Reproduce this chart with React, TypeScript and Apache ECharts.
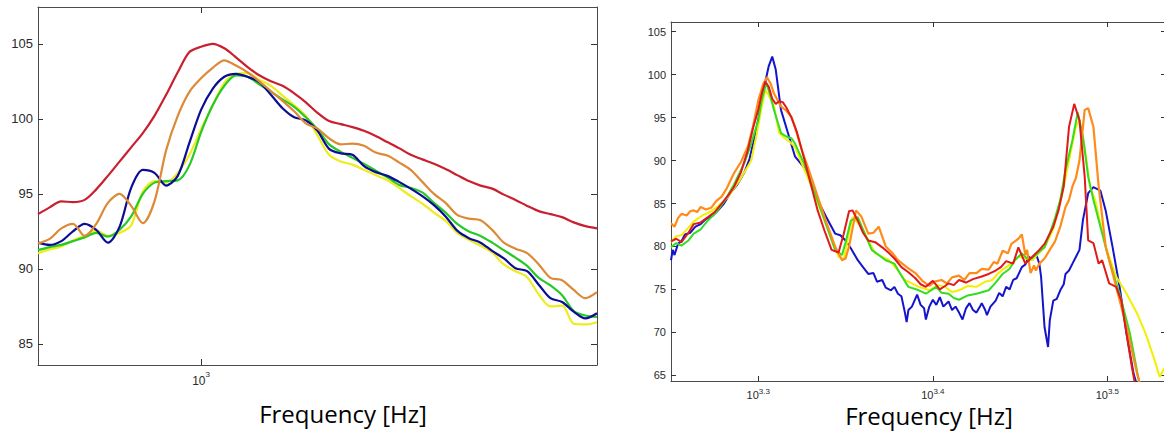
import React, { useEffect, useRef } from "react";
import * as echarts from "echarts";

// ---------- LEFT PANEL (x = log10 of frequency in Hz, y = level) ----------
const leftLogF = [
  2.930, 2.935, 2.940, 2.945, 2.950, 2.955, 2.960, 2.965, 2.970, 2.975,
  2.980, 2.985, 2.990, 2.995, 3.000, 3.005, 3.010, 3.015, 3.020, 3.025,
  3.030, 3.035, 3.040, 3.045, 3.050, 3.055, 3.060, 3.065, 3.070, 3.075,
  3.080, 3.085, 3.090, 3.095, 3.100, 3.105, 3.110, 3.115, 3.120, 3.125,
  3.130, 3.135, 3.140, 3.145, 3.150, 3.155, 3.160, 3.165, 3.170,
];
const leftRed = [
  93.65, 94.1, 94.5, 94.45, 94.6, 95.3, 96.2, 97.15, 98.1, 99.05,
  100.2, 101.6, 103.1, 104.45, 104.8, 105.0, 104.7, 104.1, 103.45, 102.9,
  102.5, 102.2, 101.7, 101.1, 100.4, 99.85, 99.65, 99.45, 99.2, 98.85,
  98.45, 98.05, 97.6, 97.3, 97.0, 96.65, 96.25, 95.85, 95.55, 95.35,
  94.95, 94.6, 94.2, 93.85, 93.65, 93.45, 93.1, 92.85, 92.7,
];
const leftOrange = [
  91.7, 92.0, 92.7, 93.0, 92.2, 93.0, 94.4, 95.0, 94.2, 93.05,
  94.5, 97.9, 100.2, 101.8, 102.7, 103.4, 103.9, 103.55, 103.1, 102.5,
  101.85, 101.2, 100.5, 99.7, 99.35, 98.7, 98.3, 98.35, 98.2, 97.75,
  97.55, 97.1, 96.6, 95.8, 95.0, 94.4, 93.6, 93.35, 93.25, 92.6,
  91.75, 91.35, 91.05, 90.3, 89.4, 89.25, 88.6, 88.05, 88.45,
];
const leftBlue = [
  91.75, 91.6, 91.85, 92.5, 93.0, 92.6, 91.75, 92.8, 95.4, 96.6,
  96.4, 95.55, 96.2, 98.4, 100.6, 102.0, 102.8, 103.0, 102.8, 102.45,
  101.6, 100.7, 100.1, 99.9, 99.2, 98.0, 97.7, 97.6, 96.85, 96.45,
  96.2, 95.8, 95.35, 94.85, 94.25, 93.5, 92.55, 92.05, 91.75, 91.2,
  90.7, 90.05, 89.85, 88.95, 88.05, 87.8, 87.15, 86.7, 87.05,
];
const leftGreen = [
  91.25, 91.45, 91.6, 91.85, 92.1, 92.4, 92.15, 92.6, 93.5, 95.0,
  95.75, 95.85, 95.9, 96.9, 99.1, 100.9, 102.2, 102.9, 102.8, 102.3,
  101.8, 101.3, 100.8, 100.1, 99.3, 98.3, 97.8, 97.4, 97.0, 96.55,
  96.1, 95.6, 95.4, 95.1, 94.4, 93.75, 93.0, 92.5, 92.2, 91.75,
  91.25, 90.75, 90.2, 89.4, 88.9, 88.25, 87.2, 86.9, 86.8,
];
const leftYellow = [
  91.05, 91.3, 91.5, 91.9, 92.2, 92.55, 92.2, 92.4, 92.9, 95.15,
  95.85, 95.75, 96.4, 97.6, 99.3, 100.9, 102.4, 103.0, 103.05, 102.6,
  102.2, 101.55, 100.9, 100.2, 98.9, 97.6, 97.15, 96.95, 96.6, 96.25,
  95.9, 95.4, 94.85, 94.35, 93.75, 93.2, 92.4, 91.95, 91.55, 91.1,
  90.3, 89.85, 89.45, 88.3, 87.5, 87.55, 86.35, 86.3, 86.45,
];
const leftXTicks = [3];
const leftYTicks = [85, 90, 95, 100, 105];

// ---------- RIGHT PANEL ([log10 f, level] pairs) ----------
const rightBlue: [number, number][] = [
  [3.250, 78.4], [3.251, 79.6], [3.252, 79.0], [3.254, 80.3], [3.256, 80.6], [3.258, 81.4],
  [3.261, 81.6], [3.264, 82.3], [3.267, 82.6], [3.270, 83.2], [3.274, 83.6], [3.277, 84.2],
  [3.280, 84.9], [3.284, 86.2], [3.288, 87.2], [3.292, 88.6], [3.295, 90.2], [3.298, 92.8],
  [3.301, 95.8], [3.303, 98.2], [3.306, 101.0], [3.308, 102.1], [3.310, 100.6], [3.313, 95.9],
  [3.317, 93.2], [3.321, 90.5], [3.327, 89.0], [3.334, 85.4], [3.339, 83.4], [3.344, 81.5],
  [3.347, 81.3], [3.350, 80.7], [3.353, 79.8], [3.357, 78.4], [3.360, 77.6], [3.363, 76.8],
  [3.366, 76.9], [3.368, 75.9], [3.371, 76.1], [3.373, 75.2], [3.376, 74.9], [3.378, 75.3],
  [3.380, 74.5], [3.382, 74.2], [3.384, 72.3], [3.385, 71.2], [3.386, 72.6], [3.388, 73.0],
  [3.391, 74.4], [3.393, 73.2], [3.395, 72.8], [3.396, 71.5], [3.398, 73.0], [3.400, 73.8],
  [3.402, 73.2], [3.404, 74.1], [3.406, 73.0], [3.409, 73.6], [3.411, 72.6], [3.413, 73.0],
  [3.415, 72.3], [3.417, 71.5], [3.419, 72.8], [3.421, 73.4], [3.423, 72.6], [3.425, 72.3],
  [3.427, 73.0], [3.428, 73.4], [3.430, 72.6], [3.431, 72.0], [3.433, 73.0], [3.436, 73.7],
  [3.438, 74.6], [3.440, 74.2], [3.442, 75.3], [3.444, 75.0], [3.446, 76.1], [3.448, 76.3],
  [3.451, 77.6], [3.453, 77.9], [3.455, 78.8], [3.457, 78.4], [3.459, 79.2], [3.461, 78.0],
  [3.462, 76.5], [3.464, 70.6], [3.466, 68.3], [3.467, 71.4], [3.469, 73.7], [3.471, 73.9],
  [3.473, 74.9], [3.475, 75.6], [3.476, 76.8], [3.478, 77.2], [3.480, 78.0], [3.482, 78.8],
  [3.484, 79.6], [3.486, 83.1], [3.489, 86.2], [3.492, 86.9], [3.496, 86.5], [3.499, 84.2],
  [3.503, 79.9], [3.507, 75.3], [3.511, 69.8], [3.515, 65.2], [3.517, 63.8],
];
const rightYellow: [number, number][] = [
  [3.250, 80.5], [3.253, 81.2], [3.256, 81.3], [3.260, 82.2], [3.263, 82.9], [3.268, 83.6],
  [3.273, 84.1], [3.277, 84.7], [3.282, 85.6], [3.289, 87.6], [3.296, 90.0], [3.299, 93.0],
  [3.302, 96.3], [3.304, 98.2], [3.306, 97.6], [3.309, 96.3], [3.312, 93.2], [3.315, 92.6],
  [3.318, 92.2], [3.321, 91.6], [3.329, 87.7], [3.338, 83.0], [3.346, 78.8], [3.349, 78.5],
  [3.351, 80.6], [3.354, 83.4], [3.359, 82.3], [3.367, 79.2], [3.375, 78.4], [3.380, 77.2],
  [3.384, 76.1], [3.392, 75.3], [3.398, 74.9], [3.403, 75.5], [3.407, 75.3], [3.411, 74.7],
  [3.415, 74.9], [3.420, 75.4], [3.425, 75.3], [3.430, 75.9], [3.434, 76.1], [3.438, 77.0],
  [3.442, 77.6], [3.446, 78.2], [3.449, 78.8], [3.453, 78.6], [3.457, 78.4], [3.461, 79.3],
  [3.464, 79.9], [3.469, 82.0], [3.474, 86.0], [3.479, 91.0], [3.482, 94.0], [3.484, 94.7],
  [3.487, 91.5], [3.490, 87.0], [3.493, 85.4], [3.499, 80.0], [3.505, 76.5], [3.511, 74.5],
  [3.517, 72.2], [3.522, 69.8], [3.527, 66.8], [3.530, 64.8], [3.532, 65.6], [3.534, 66.2],
];
const rightGreen: [number, number][] = [
  [3.250, 79.9], [3.253, 80.4], [3.256, 80.1], [3.260, 80.7], [3.263, 81.5], [3.267, 82.0],
  [3.271, 83.0], [3.276, 84.0], [3.281, 85.4], [3.286, 87.2], [3.292, 89.7], [3.296, 92.0],
  [3.300, 94.7], [3.302, 97.0], [3.304, 98.6], [3.305, 98.8], [3.307, 97.5], [3.309, 95.9],
  [3.313, 93.2], [3.316, 92.8], [3.319, 92.6], [3.321, 92.0], [3.327, 89.3], [3.336, 84.2],
  [3.344, 79.6], [3.348, 79.0], [3.350, 80.5], [3.353, 83.0], [3.357, 83.4], [3.361, 81.5],
  [3.365, 79.6], [3.369, 79.0], [3.373, 78.4], [3.378, 78.0], [3.382, 76.6], [3.386, 75.3],
  [3.392, 74.9], [3.396, 74.5], [3.402, 75.3], [3.405, 74.6], [3.409, 74.5], [3.412, 74.0],
  [3.415, 73.8], [3.420, 74.3], [3.425, 74.5], [3.432, 74.9], [3.436, 75.8], [3.440, 76.8],
  [3.444, 77.4], [3.447, 78.4], [3.451, 79.2], [3.455, 78.4], [3.460, 79.2], [3.464, 79.9],
  [3.467, 81.5], [3.470, 83.3], [3.473, 85.4], [3.476, 88.9], [3.480, 92.4], [3.483, 95.6],
  [3.486, 92.8], [3.489, 88.1], [3.492, 85.4], [3.496, 82.3], [3.501, 78.4], [3.507, 74.5],
  [3.513, 69.8], [3.518, 64.4], [3.519, 63.8],
];
const rightOrange: [number, number][] = [
  [3.250, 82.7], [3.252, 82.3], [3.254, 83.3], [3.256, 83.8], [3.259, 83.6], [3.261, 84.1],
  [3.263, 84.2], [3.265, 84.0], [3.267, 84.6], [3.270, 84.3], [3.273, 84.5], [3.276, 85.3],
  [3.279, 85.8], [3.282, 86.8], [3.286, 88.5], [3.290, 89.8], [3.294, 91.6], [3.297, 94.0],
  [3.300, 97.0], [3.303, 99.0], [3.305, 99.7], [3.307, 99.0], [3.309, 97.8], [3.313, 96.3],
  [3.316, 95.8], [3.319, 95.1], [3.321, 93.9], [3.325, 91.2], [3.329, 88.9], [3.338, 83.4],
  [3.344, 80.0], [3.348, 78.4], [3.350, 78.6], [3.352, 80.0], [3.356, 84.2], [3.359, 83.5],
  [3.363, 81.5], [3.366, 81.6], [3.369, 82.3], [3.373, 80.0], [3.377, 79.2], [3.380, 78.4],
  [3.385, 77.6], [3.390, 76.9], [3.394, 76.0], [3.398, 75.4], [3.401, 75.9], [3.405, 76.1],
  [3.408, 75.7], [3.411, 76.4], [3.415, 76.6], [3.418, 76.1], [3.421, 76.9], [3.425, 76.9],
  [3.428, 77.4], [3.432, 77.3], [3.435, 78.2], [3.437, 78.0], [3.440, 79.5], [3.443, 79.2],
  [3.445, 80.3], [3.447, 80.6], [3.449, 80.9], [3.451, 81.4], [3.453, 79.0], [3.454, 79.6],
  [3.456, 76.9], [3.458, 77.8], [3.459, 77.2], [3.461, 78.0], [3.464, 78.6], [3.467, 79.6],
  [3.470, 80.6], [3.473, 82.3], [3.476, 84.6], [3.478, 85.4], [3.480, 87.0], [3.482, 88.0],
  [3.484, 90.0], [3.487, 95.9], [3.489, 96.1], [3.492, 93.9], [3.495, 87.0], [3.499, 80.0],
  [3.505, 75.3], [3.511, 70.6], [3.517, 65.2], [3.519, 63.8],
];
const rightRed: [number, number][] = [
  [3.250, 80.6], [3.253, 80.9], [3.256, 80.5], [3.260, 81.6], [3.263, 82.6], [3.267, 82.8],
  [3.271, 83.4], [3.275, 84.0], [3.279, 85.0], [3.283, 86.0], [3.286, 86.9], [3.290, 88.6],
  [3.294, 91.2], [3.297, 93.8], [3.300, 95.9], [3.302, 97.8], [3.304, 99.2], [3.306, 98.6],
  [3.308, 97.2], [3.310, 96.6], [3.312, 96.9], [3.314, 96.8], [3.316, 96.2], [3.319, 95.0],
  [3.322, 93.4], [3.327, 89.7], [3.334, 84.2], [3.338, 81.8], [3.342, 79.6], [3.346, 79.3],
  [3.349, 81.5], [3.352, 84.1], [3.354, 84.2], [3.357, 83.0], [3.360, 81.6], [3.363, 80.7],
  [3.367, 80.5], [3.371, 79.9], [3.375, 79.2], [3.378, 78.6], [3.382, 77.6], [3.386, 77.0],
  [3.390, 76.3], [3.393, 75.6], [3.396, 75.3], [3.400, 76.0], [3.404, 75.0], [3.407, 75.4],
  [3.409, 75.7], [3.412, 75.5], [3.415, 76.1], [3.419, 75.8], [3.423, 76.2], [3.428, 76.5],
  [3.432, 76.8], [3.436, 77.2], [3.439, 77.6], [3.442, 78.3], [3.446, 78.0], [3.449, 79.9],
  [3.453, 78.0], [3.457, 78.8], [3.461, 79.6], [3.464, 80.3], [3.469, 82.3], [3.472, 84.2],
  [3.475, 87.0], [3.478, 93.9], [3.481, 96.6], [3.484, 94.7], [3.487, 88.1], [3.489, 80.7],
  [3.492, 80.4], [3.495, 78.0], [3.497, 78.4], [3.501, 75.7], [3.505, 75.3], [3.508, 73.7],
  [3.511, 69.8], [3.514, 66.0], [3.516, 63.8],
];
const rightXTicks = [3.3, 3.4, 3.5];
const rightYTicks = [65, 70, 75, 80, 85, 90, 95, 100, 105];
const axisTitle = "Frequency [Hz]";

const LABEL_FONT = "'Liberation Sans', Arial, sans-serif";
const AXIS_COLOR = "#4a4a4a";
const LABEL_COLOR = "#2a2a2a";

function expLabel(v: number) {
  const e = String(Number(v.toFixed(2)));
  return `{b|10}{s|${e}}`;
}

function makeX(gridIndex: number, min: number, max: number, ticks: number[], pos: "bottom" | "top", fs: number, margin: number, tickLen: number, lh: number) {
  return {
    type: "value",
    gridIndex,
    min,
    max,
    position: pos,
    axisLine: { show: true, onZero: false, lineStyle: { color: AXIS_COLOR, width: 1 } },
    axisTick: { show: true, inside: true, length: tickLen, customValues: ticks, lineStyle: { color: "#333" } },
    axisLabel: pos === "bottom"
      ? {
          show: true,
          customValues: ticks,
          margin,
          formatter: expLabel,
          rich: {
            b: { fontSize: fs, lineHeight: lh, verticalAlign: "bottom", fontFamily: LABEL_FONT, color: LABEL_COLOR },
            s: { fontSize: 8, lineHeight: lh, verticalAlign: "top", fontFamily: LABEL_FONT, color: LABEL_COLOR },
          },
        }
      : { show: false },
    splitLine: { show: false },
  };
}

function makeY(gridIndex: number, min: number, max: number, ticks: number[], pos: "left" | "right", fs: number, tickLen: number) {
  return {
    type: "value",
    gridIndex,
    min,
    max,
    position: pos,
    axisLine: { show: true, onZero: false, lineStyle: { color: AXIS_COLOR, width: 1 } },
    axisTick: { show: true, inside: true, length: tickLen, customValues: ticks, lineStyle: { color: "#333" } },
    axisLabel: pos === "left"
      ? { show: true, customValues: ticks, margin: 5, fontSize: fs, fontFamily: LABEL_FONT, color: LABEL_COLOR }
      : { show: false },
    splitLine: { show: false },
  };
}

function line(name: string, data: number[][], color: string, axis: number, width: number, smooth: number | boolean) {
  return {
    name,
    type: "line",
    xAxisIndex: axis,
    yAxisIndex: axis,
    data,
    showSymbol: false,
    smooth,
    clip: true,
    lineStyle: { color, width },
    itemStyle: { color },
  };
}

export default function App() {
  const ref = useRef<HTMLDivElement>(null);
  useEffect(() => {
    const chart = echarts.init(ref.current!, null, { renderer: "svg" });
    const L = (vals: number[]) => leftLogF.map((x, i) => [x, vals[i]]);
    const titleStyle = {
      text: axisTitle,
      fontSize: 24,
      fontFamily: "'Open Sans', sans-serif",
      fill: "#000",
      textAlign: "center",
      textVerticalAlign: "middle",
    };
    const option: any = {
      animation: false,
      backgroundColor: "#ffffff",
      grid: [
        { left: 38, top: 7, width: 559, height: 358, outerBoundsMode: "none", containLabel: false },
        { left: 671, top: 22, width: 494, height: 359, outerBoundsMode: "none", containLabel: false },
      ],
      xAxis: [
        makeX(0, 2.93, 3.17, leftXTicks, "bottom", 12, 5, 6, 17),
        makeX(0, 2.93, 3.17, leftXTicks, "top", 12, 5, 6, 17),
        makeX(1, 3.25, 3.533, rightXTicks, "bottom", 11, 6, 5, 13),
        makeX(1, 3.25, 3.533, rightXTicks, "top", 11, 6, 5, 13),
      ],
      yAxis: [
        makeY(0, 83.6, 107.45, leftYTicks, "left", 13, 5),
        makeY(0, 83.6, 107.45, leftYTicks, "right", 13, 6),
        makeY(1, 64.34, 106.13, rightYTicks, "left", 11, 5),
        makeY(1, 64.34, 106.13, rightYTicks, "right", 11, 4),
      ],
      series: [
        line("L yellow", L(leftYellow), "#eeec1c", 0, 2.2, 0.3),
        line("L green", L(leftGreen), "#26c926", 0, 2.2, 0.3),
        line("L blue", L(leftBlue), "#0c0c94", 0, 2.2, 0.3),
        line("L orange", L(leftOrange), "#dc8a36", 0, 2.2, 0.3),
        line("L red", L(leftRed), "#c91f2f", 0, 2.2, 0.3),
        line("R blue", rightBlue, "#1414cc", 2, 2, false),
        line("R yellow", rightYellow, "#f2ef00", 2, 2, false),
        line("R green", rightGreen, "#33dd22", 2, 2, false),
        line("R orange", rightOrange, "#ff8c1a", 2, 2.2, false),
        line("R red", rightRed, "#e01a1a", 2, 2, false),
      ],
      graphic: [
        { type: "text", x: 343, y: 413, style: { ...titleStyle } },
        { type: "text", x: 929, y: 415, style: { ...titleStyle } },
      ],
    };
    chart.setOption(option);
    return () => chart.dispose();
  }, []);
  return (
    <div
      ref={ref}
      style={{ position: "fixed", left: 0, top: 0, width: 1164, height: 431, background: "#fff" }}
    />
  );
}
